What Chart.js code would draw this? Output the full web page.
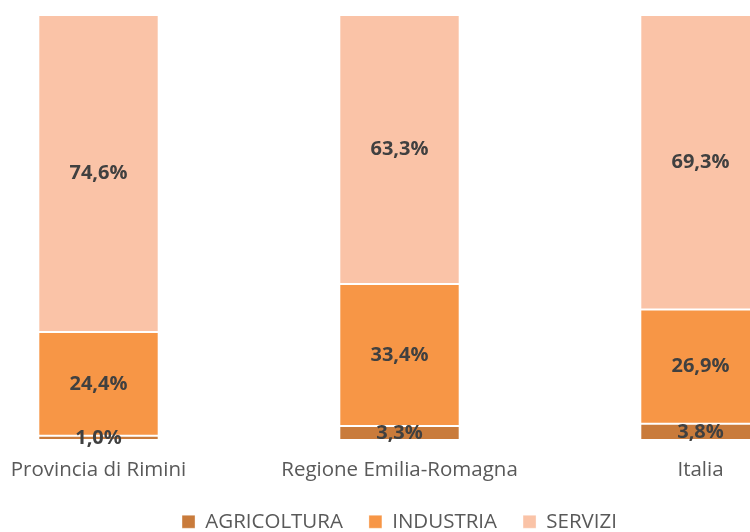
<!DOCTYPE html>
<html lang="it">
<head>
<meta charset="utf-8">
<title>Composizione per settore</title>
<script src="https://cdn.jsdelivr.net/npm/chart.js@4/dist/chart.umd.min.js"></script>
<style>
    html, body { margin: 0; padding: 0; background: #fff; overflow: hidden; }
    body { width: 750px; height: 532px; position: relative; }
    #wrap { position: absolute; left: -52px; top: 0; width: 903px; height: 532px; }
</style>
</head>
<body>
<div id="wrap"><canvas id="chart"></canvas></div>
<script>
const territori = ['Provincia di Rimini', 'Regione Emilia-Romagna', 'Italia'];
const agricoltura = [1.0, 3.3, 3.8];
const industria = [24.4, 33.4, 26.9];
const servizi = [74.6, 63.3, 69.3];

const FONT = '"Open Sans", sans-serif';

// percent labels in the middle of each segment
const segmentLabels = {
    id: 'segmentLabels',
    afterDatasetsDraw(chart) {
        const ctx = chart.ctx;
        ctx.save();
        ctx.font = 'bold 20px ' + FONT;
        ctx.fillStyle = '#404040';
        ctx.textAlign = 'center';
        ctx.textBaseline = 'middle';
        chart.data.datasets.forEach((ds, i) => {
            chart.getDatasetMeta(i).data.forEach((bar, j) => {
                const y = (bar.y + bar.base) / 2;
                ctx.fillText(ds.data[j].toFixed(1).replace('.', ',') + '%', bar.x, y);
            });
        });
        ctx.restore();
    }
};

new Chart(document.getElementById('chart'), {
    type: 'bar',
    data: {
        labels: territori,
        datasets: [
            { label: 'AGRICOLTURA', data: agricoltura, backgroundColor: '#c97b3b' },
            { label: 'INDUSTRIA', data: industria, backgroundColor: '#f79646' },
            { label: 'SERVIZI', data: servizi, backgroundColor: '#fac3a7' }
        ]
    },
    options: {
        responsive: true,
        maintainAspectRatio: false,
        animation: false,
        layout: { padding: { top: 15, left: 0, right: 0, bottom: -10 } },
        datasets: {
            bar: {
                categoryPercentage: 1,
                barPercentage: 0.4,
                borderColor: 'rgba(255,255,255,0.35)',
                borderWidth: 1,
                borderSkipped: false
            }
        },
        scales: {
            x: {
                stacked: true,
                grid: { display: false },
                border: { display: false },
                ticks: { color: '#595959', font: { family: FONT, size: 20.5 }, padding: 10, maxRotation: 0 },
                afterFit(scale) { scale.height = 45.5; }
            },
            y: {
                stacked: true,
                display: false,
                min: 0,
                max: 100
            }
        },
        plugins: {
            legend: {
                position: 'bottom',
                labels: {
                    color: '#595959',
                    font: { family: FONT, size: 20.5 },
                    boxWidth: 13,
                    boxHeight: 13,
                    padding: 26
                }
            },
            tooltip: { enabled: false }
        }
    },
    plugins: [segmentLabels]
});
</script>
</body>
</html>
